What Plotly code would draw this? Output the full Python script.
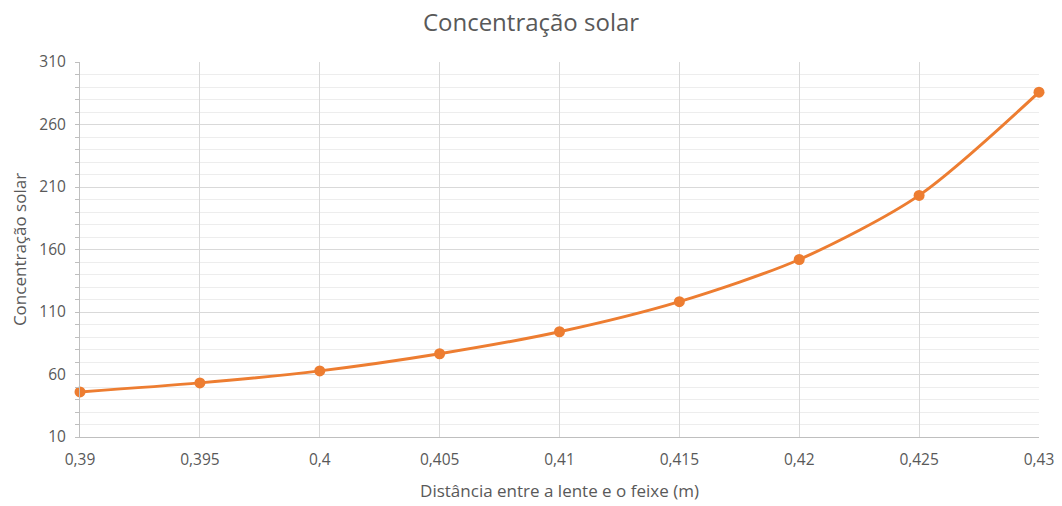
import plotly.graph_objects as go

distancia = [0.39, 0.395, 0.40, 0.405, 0.41, 0.415, 0.42, 0.425, 0.43]
concentracao = [46.1, 53.3, 62.9, 76.6, 94.2, 118.3, 152.0, 203.3, 285.9]
x_ticks = [0.39, 0.395, 0.40, 0.405, 0.41, 0.415, 0.42, 0.425, 0.43]
x_labels = ["0,39", "0,395", "0,4", "0,405", "0,41", "0,415", "0,42", "0,425", "0,43"]
y_ticks = [10, 60, 110, 160, 210, 260, 310]

font = "'Open Sans', sans-serif"
fig = go.Figure()
fig.add_trace(go.Scatter(
    x=distancia, y=concentracao, mode="lines+markers",
    line=dict(color="#ED7D31", width=3, shape="spline", smoothing=0.8),
    marker=dict(color="#ED7D31", size=11),
    cliponaxis=False, showlegend=False,
))
fig.update_layout(
    width=1062, height=506,
    margin=dict(l=80, r=23, t=62, b=69),
    paper_bgcolor="white", plot_bgcolor="white",
    font=dict(family=font, color="#595959", size=15),
    title=dict(text="Concentração solar", x=0.5, xanchor="center", y=0.955, yanchor="middle",
               font=dict(size=24, color="#595959", family=font)),
)
fig.update_xaxes(
    range=[0.39, 0.43], tickvals=x_ticks, ticktext=x_labels,
    showgrid=True, gridcolor="#D9D9D9", gridwidth=1,
    showline=True, linecolor="#BFBFBF", linewidth=1,
    ticks="", zeroline=False, automargin=False, ticklabelstandoff=8,
    title=dict(text="Distância entre a lente e o feixe (m)", font=dict(size=17, color="#595959"), standoff=16),
    tickfont=dict(size=15.5, color="#595959"),
)
fig.update_yaxes(
    range=[10, 310], tickvals=y_ticks,
    showgrid=True, gridcolor="#D9D9D9", gridwidth=1,
    showline=True, linecolor="#BFBFBF", linewidth=1,
    ticks="outside", ticklen=0, zeroline=False, automargin=False, ticklabelstandoff=10,
    minor=dict(dtick=10, tick0=10, showgrid=True, gridcolor="#EDEDED", ticks="outside", ticklen=4, tickcolor="#BFBFBF"),
    title=dict(text="Concentração solar", font=dict(size=17, color="#595959"), standoff=8),
    tickfont=dict(size=15.5, color="#595959"),
)
fig.write_html("out.html", post_script="document.body.style.margin='0';",
               config={"displayModeBar": False})
